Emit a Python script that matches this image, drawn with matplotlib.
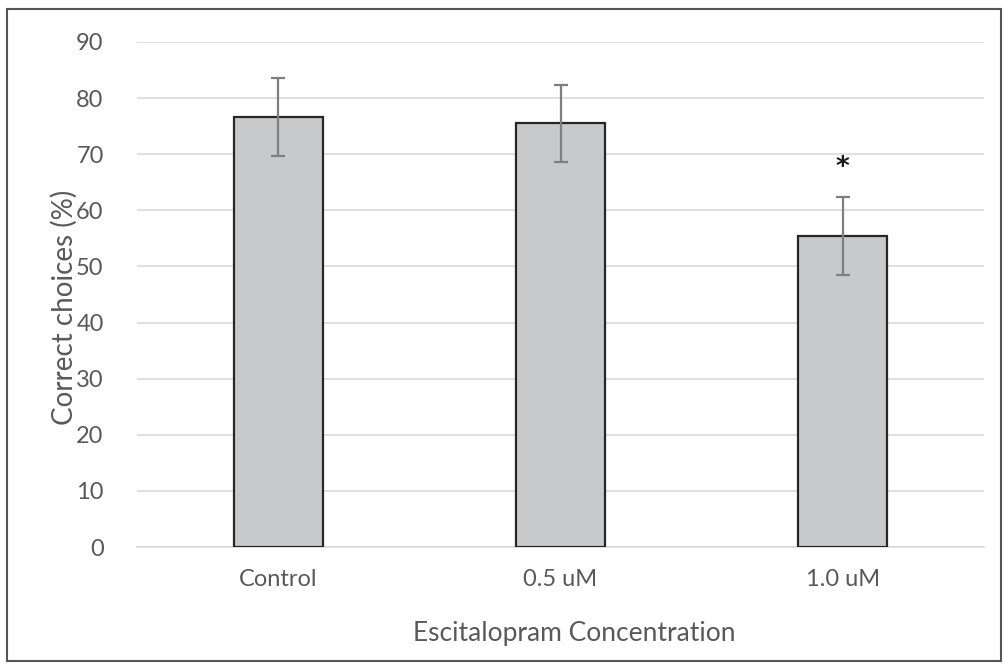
import matplotlib.pyplot as plt
from matplotlib.patches import Rectangle

categories = ["Control", "0.5 uM", "1.0 uM"]
means = [76.6, 75.5, 55.4]
errors = [6.9, 6.8, 6.9]
star_y = 67.5

plt.rcParams['font.family'] = ['Lato', 'DejaVu Sans']

W, H = 1008, 668
fig = plt.figure(figsize=(W / 100, H / 100), dpi=100)
ax = fig.add_axes([137 / W, 1 - 547 / H, (984 - 137) / W, (547 - 42) / H])

x = range(len(categories))
ax.bar(x, means, width=0.316, color='#c8c9cb', edgecolor='#262626', linewidth=1.6, zorder=3)
ax.errorbar(x, means, yerr=errors, fmt='none', ecolor='#7f7f7f', elinewidth=1.6,
            capsize=5, capthick=1.6, zorder=4)
ax.text(2, star_y, '*', ha='center', va='center', fontsize=19, fontweight='bold',
        color='#1a1a1a', family='DejaVu Sans')

ax.set_xlim(-0.5, 2.5)
ax.set_ylim(0, 90)
ax.set_yticks(range(0, 91, 10))
ax.set_xticks(list(x))
ax.set_xticklabels(categories)
ax.yaxis.grid(True, color='#d9d9d9', linewidth=1.2, zorder=0)
ax.set_axisbelow(True)
for s in ['top', 'right', 'left']:
    ax.spines[s].set_visible(False)
ax.spines['bottom'].set_color('#d9d9d9')
ax.spines['bottom'].set_linewidth(1.2)
ax.tick_params(axis='both', length=0, labelsize=17, colors='#595959')
ax.tick_params(axis='y', pad=24)
ax.tick_params(axis='x', pad=16)

# axis titles placed like the Excel original (centred on the plot area, not the axes)
fig.text(64 / W, 1 - 307 / H, 'Correct choices (%)', rotation=90, ha='center', va='center',
         fontsize=20, color='#595959')
fig.text(574 / W, 1 - 633 / H, 'Escitalopram Concentration', ha='center', va='center',
         fontsize=19, color='#595959')

fig.patches.append(Rectangle((7 / W, 1 - 661 / H), 994 / W, 652 / H,
                             transform=fig.transFigure, fill=False,
                             edgecolor='#555555', linewidth=1.5))

fig.savefig('out.png', dpi=100)
